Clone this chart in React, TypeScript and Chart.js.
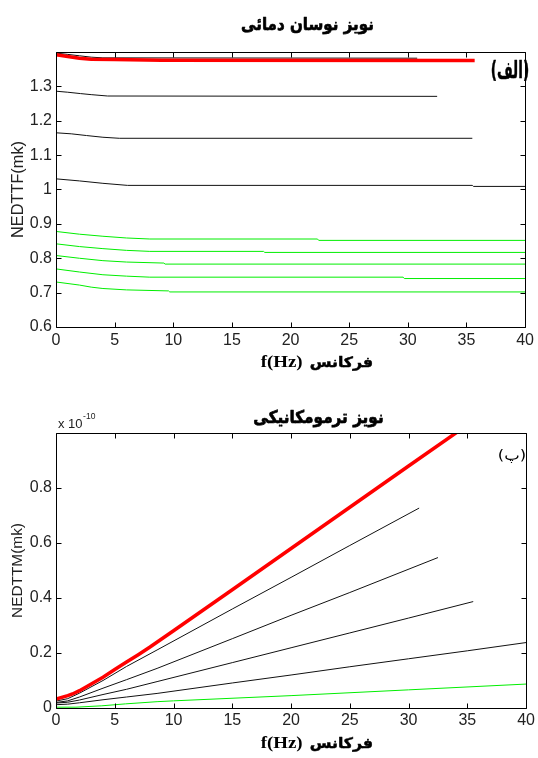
import React, { useEffect, useRef } from 'react';
import { Chart, registerables } from 'chart.js';
Chart.register(...registerables);

// ---------- Top chart: نویز نوسان دمائی (NEDTTF) ----------
const topRedF = [0, 1, 2, 3, 5, 9, 35.7];
const topRedV = [1.392, 1.387, 1.382, 1.379, 1.378, 1.376, 1.375];
const topBlackAF = [0, 1, 2, 3, 4, 30.8];
const topBlackAV = [1.397, 1.393, 1.389, 1.385, 1.383, 1.382];
const topBlackBF = [0, 1, 2.1, 3, 4.4, 32.5];
const topBlackBV = [1.286, 1.283, 1.279, 1.276, 1.272, 1.271];
const topBlackCF = [0, 1.3, 2.6, 4, 5.4, 35.5];
const topBlackCV = [1.165, 1.162, 1.157, 1.152, 1.149, 1.149];
const topBlackDF = [0, 2, 4, 6.1, 35.5, 35.6, 40];
const topBlackDV = [1.031, 1.025, 1.018, 1.012, 1.012, 1.009, 1.009];
const topGreen1F = [0, 2, 4, 6, 8, 22.3, 22.4, 40];
const topGreen1V = [0.878, 0.870, 0.864, 0.859, 0.856, 0.856, 0.852, 0.852];
const topGreen2F = [0, 2, 4, 6, 8, 17.7, 17.8, 40];
const topGreen2V = [0.842, 0.834, 0.828, 0.823, 0.820, 0.820, 0.817, 0.817];
const topGreen3F = [0, 2, 4, 6, 9.2, 9.3, 40];
const topGreen3V = [0.808, 0.800, 0.793, 0.789, 0.786, 0.783, 0.783];
const topGreen4F = [0, 2, 4, 6, 8, 29.6, 29.7, 40];
const topGreen4V = [0.769, 0.760, 0.752, 0.748, 0.745, 0.745, 0.741, 0.741];
const topGreen5F = [0, 2, 3, 4, 6, 9.6, 9.7, 40];
const topGreen5V = [0.731, 0.722, 0.716, 0.712, 0.708, 0.705, 0.702, 0.702];

// ---------- Bottom chart: نویز ترمومکانیکی (NEDTTM, x 1e-10) ----------
const botRedF = [0, 1, 1.4, 2, 3, 4, 5, 6, 7, 8, 10, 15, 20, 25, 30, 35.7];
const botRedV = [0.032, 0.045, 0.051, 0.063, 0.087, 0.112, 0.14, 0.167, 0.194, 0.222, 0.281, 0.43, 0.58, 0.73, 0.88, 1.05];
const botBlack1F = [0, 1, 2, 4, 6, 8.6, 15, 20, 25, 30.9];
const botBlack1V = [0.025, 0.034, 0.054, 0.1, 0.151, 0.211, 0.36, 0.475, 0.591, 0.727];
const botBlack2F = [0, 1, 2, 4, 6, 8.6, 15, 20, 25, 32.5];
const botBlack2V = [0.02, 0.026, 0.04, 0.072, 0.103, 0.144, 0.252, 0.337, 0.42, 0.547];
const botBlack3F = [0, 1, 2, 4, 6, 8.6, 15, 20, 25, 30, 35.5];
const botBlack3V = [0.018, 0.021, 0.029, 0.049, 0.068, 0.096, 0.165, 0.219, 0.273, 0.327, 0.387];
const botBlack4F = [0, 1, 2, 4, 6, 8.6, 15, 20, 25, 30, 35, 40];
const botBlack4V = [0.012, 0.014, 0.019, 0.03, 0.04, 0.053, 0.091, 0.12, 0.15, 0.179, 0.208, 0.238];
const botGreenF = [0, 1.7, 3.9, 5.9, 8.6, 10, 20, 30, 40];
const botGreenV = [0.003, 0.003, 0.008, 0.015, 0.023, 0.026, 0.045, 0.066, 0.087];

const RED = '#ff0000';
const BLACK = '#111111';
const GREEN = '#00ee00';
const TICK_FONT = "'Liberation Sans Narrow', 'Liberation Sans', Arial, sans-serif";
const SANS = "'Liberation Sans', Arial, sans-serif";
const ARABIC = "'DejaVu Sans', sans-serif";
const SERIF = "'Liberation Serif', 'Times New Roman', serif";

function series(f: number[], v: number[], color: string, width: number) {
  return {
    data: f.map((x, i) => ({ x, y: v[i] })),
    borderColor: color,
    backgroundColor: color,
    borderWidth: width,
    pointRadius: 0,
    tension: 0,
    fill: false,
    clip: 0,
  };
}

function fitText(ctx: CanvasRenderingContext2D, text: string, cx: number, cy: number, targetW: number, weight: string, family: string, rtl: boolean) {
  ctx.direction = rtl ? 'rtl' : 'ltr';
  ctx.font = `${weight} 20px ${family}`;
  const w = ctx.measureText(text).width || 1;
  const size = (20 * targetW) / w;
  ctx.font = `${weight} ${size.toFixed(2)}px ${family}`;
  ctx.textAlign = 'center';
  ctx.textBaseline = 'middle';
  ctx.fillText(text, cx, cy);
}

// draw text so that its ink box fills [x0,x1] x [y0,y1]; optional stroke to thicken
function fitBox(ctx: CanvasRenderingContext2D, text: string, x0: number, x1: number, y0: number, y1: number, weight: string, family: string, rtl: boolean, stroke = 0) {
  ctx.save();
  ctx.direction = rtl ? 'rtl' : 'ltr';
  ctx.textAlign = 'left';
  ctx.textBaseline = 'alphabetic';
  ctx.font = `${weight} 40px ${family}`;
  const m = ctx.measureText(text);
  const w = (m.actualBoundingBoxLeft + m.actualBoundingBoxRight) || 1;
  const h = (m.actualBoundingBoxAscent + m.actualBoundingBoxDescent) || 1;
  const sx = (x1 - x0) / w;
  const sy = (y1 - y0) / h;
  ctx.translate(x0, y0);
  ctx.scale(sx, sy);
  ctx.fillStyle = '#000';
  ctx.fillText(text, m.actualBoundingBoxLeft, m.actualBoundingBoxAscent);
  if (stroke > 0) {
    ctx.strokeStyle = '#000';
    ctx.lineWidth = stroke / Math.min(sx, sy);
    ctx.lineJoin = 'round';
    ctx.strokeText(text, m.actualBoundingBoxLeft, m.actualBoundingBoxAscent);
  }
  ctx.restore();
}

function decor(drawTexts: (ctx: CanvasRenderingContext2D, chart: any) => void) {
  return {
    id: 'decor',
    afterDatasetsDraw(chart: any) {
      const { ctx, chartArea: a, scales } = chart;
      const x = scales.x;
      const y = scales.y;
      ctx.save();
      ctx.strokeStyle = '#000';
      ctx.lineWidth = 1;
      const L = Math.round(a.left) + 0.5;
      const R = Math.round(a.right) + 0.5;
      const T = Math.round(a.top) + 0.5;
      const B = Math.round(a.bottom) + 0.5;
      ctx.beginPath();
      ctx.rect(L, T, R - L, B - T);
      x.ticks.forEach((t: any) => {
        const px = Math.round(x.getPixelForValue(t.value)) + 0.5;
        ctx.moveTo(px, B); ctx.lineTo(px, B - 5);
        ctx.moveTo(px, T); ctx.lineTo(px, T + 5);
      });
      y.ticks.forEach((t: any) => {
        const py = Math.round(y.getPixelForValue(t.value)) + 0.5;
        ctx.moveTo(L, py); ctx.lineTo(L + 5, py);
        ctx.moveTo(R, py); ctx.lineTo(R - 5, py);
      });
      ctx.stroke();
      ctx.fillStyle = '#000';
      drawTexts(ctx, chart);
      ctx.restore();
    },
  };
}

function fmt(v: number) {
  return String(Math.round(v * 10) / 10);
}

function baseOptions(yMin: number, yMax: number, yStep: number, hideAbove: number, xHeight: number, xPad: number, padTop: number) {
  return {
    animation: false,
    responsive: false,
    devicePixelRatio: 1,
    layout: { padding: { left: 0, right: 9, top: padTop, bottom: 0 } },
    plugins: { legend: { display: false }, tooltip: { enabled: false }, title: { display: false } },
    scales: {
      x: {
        type: 'linear',
        min: 0,
        max: 40,
        ticks: { stepSize: 5, color: '#222', font: { family: TICK_FONT, size: 16 }, padding: xPad, maxRotation: 0, autoSkip: false, callback: (v: number) => fmt(v) },
        grid: { display: false, drawTicks: false },
        border: { display: false },
        afterFit: (s: any) => { s.height = xHeight; },
      },
      y: {
        type: 'linear',
        min: yMin,
        max: yMax,
        ticks: { stepSize: yStep, color: '#222', font: { family: TICK_FONT, size: 16 }, padding: 4, autoSkip: false, callback: (v: number) => (v > hideAbove ? '' : fmt(v)) },
        grid: { display: false, drawTicks: false },
        border: { display: false },
        afterFit: (s: any) => { s.width = 56; },
      },
    },
  };
}

function buildTop(): any {
  return {
    type: 'line',
    data: {
      datasets: [
        series(topRedF, topRedV, RED, 3.5),
        series(topBlackAF, topBlackAV, BLACK, 1),
        series(topBlackBF, topBlackBV, BLACK, 1),
        series(topBlackCF, topBlackCV, BLACK, 1),
        series(topBlackDF, topBlackDV, BLACK, 1),
        series(topGreen1F, topGreen1V, GREEN, 1),
        series(topGreen2F, topGreen2V, GREEN, 1),
        series(topGreen3F, topGreen3V, GREEN, 1),
        series(topGreen4F, topGreen4V, GREEN, 1),
        series(topGreen5F, topGreen5V, GREEN, 1),
      ],
    },
    options: baseOptions(0.6, 1.4, 0.1, 1.35, 52, 4, 52),
    plugins: [
      decor((ctx, chart) => {
        const a = chart.chartArea;
        fitBox(ctx, 'نویز نوسان دمائی', 241.7, 372.7, 17, 34, 'bold', ARABIC, true, 0.6);
        fitBox(ctx, 'f(Hz)', 260.7, 302, 356, 371, 'bold', SERIF, false);
        fitBox(ctx, 'فرکانس', 310.5, 372.2, 356, 370.5, 'bold', ARABIC, true, 0.5);
        fitBox(ctx, '(الف)', 491.7, 528, 60, 81.7, 'bold', ARABIC, true, 0.3);
        ctx.save();
        ctx.translate(18, (a.top + a.bottom) / 2);
        ctx.rotate(-Math.PI / 2);
        ctx.fillStyle = '#222';
        fitText(ctx, 'NEDTTF(mk)', 0, 0, 97, 'normal', SANS, false);
        ctx.restore();
      }),
    ],
  };
}

function buildBottom(): any {
  return {
    type: 'line',
    data: {
      datasets: [
        series(botRedF, botRedV, RED, 3.5),
        series(botBlack1F, botBlack1V, BLACK, 1),
        series(botBlack2F, botBlack2V, BLACK, 1),
        series(botBlack3F, botBlack3V, BLACK, 1),
        series(botBlack4F, botBlack4V, BLACK, 1),
        series(botGreenF, botGreenV, GREEN, 1),
      ],
    },
    options: baseOptions(0, 1, 0.2, 0.9, 50, 3, 54),
    plugins: [
      decor((ctx, chart) => {
        const a = chart.chartArea;
        fitBox(ctx, 'نویز ترمومکانیکی', 254, 382.5, 30, 48, 'bold', ARABIC, true, 0.6);
        fitBox(ctx, 'f(Hz)', 260.7, 302, 357.5, 373, 'bold', SERIF, false);
        fitBox(ctx, 'فرکانس', 310.5, 372.2, 357.5, 372.5, 'bold', ARABIC, true, 0.5);
        fitBox(ctx, '(پ)', 499, 525, 70, 84, 'normal', ARABIC, true);
        ctx.direction = 'ltr';
        ctx.textAlign = 'left';
        ctx.textBaseline = 'alphabetic';
        ctx.fillStyle = '#222';
        ctx.font = `13px ${TICK_FONT}`;
        ctx.fillText('x 10', 58, 49);
        const w = ctx.measureText('x 10').width;
        ctx.font = `8.5px ${TICK_FONT}`;
        ctx.fillText('-10', 58 + w + 0.5, 39.5);
        ctx.save();
        ctx.translate(18, (a.top + a.bottom) / 2);
        ctx.rotate(-Math.PI / 2);
        ctx.fillStyle = '#222';
        fitText(ctx, 'NEDTTM(mk)', 0, 0, 95, 'normal', SANS, false);
        ctx.restore();
      }),
    ],
  };
}

export default function App() {
  const ref1 = useRef<HTMLCanvasElement>(null);
  const ref2 = useRef<HTMLCanvasElement>(null);
  useEffect(() => {
    const c1 = new Chart(ref1.current as HTMLCanvasElement, buildTop());
    const c2 = new Chart(ref2.current as HTMLCanvasElement, buildBottom());
    return () => {
      c1.destroy();
      c2.destroy();
    };
  }, []);
  return (
    <div style={{ position: 'fixed', left: 0, top: 0, width: 538, height: 758, background: '#fff' }}>
      <canvas ref={ref1} width={538} height={379} style={{ position: 'absolute', left: 0, top: 0, width: 538, height: 379 }} />
      <canvas ref={ref2} width={538} height={379} style={{ position: 'absolute', left: 0, top: 379, width: 538, height: 379 }} />
    </div>
  );
}
